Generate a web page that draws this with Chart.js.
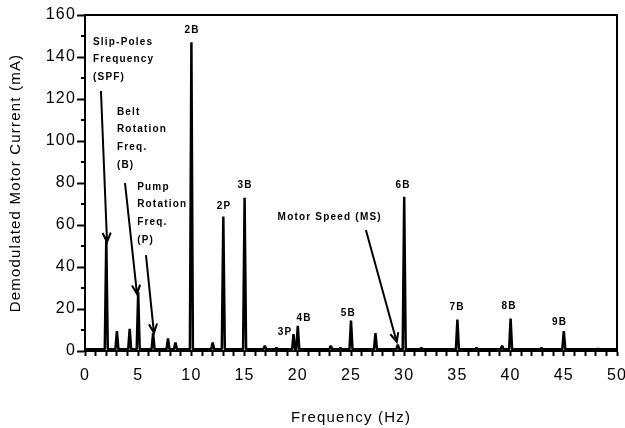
<!DOCTYPE html>
<html>
<head>
<meta charset="utf-8">
<script src="https://cdn.jsdelivr.net/npm/chart.js@4.4.1/dist/chart.umd.min.js"></script>
<style>
    html, body { margin: 0; padding: 0; background: #fff; }
</style>
</head>
<body>
<canvas id="spectrum" width="625" height="428"></canvas>
<script>
// spectral lines (Hz / mA)
const peakFreqs  = [2, 3, 4.2, 5, 6.4, 7.8, 8.5, 10, 12, 13, 15, 16.9, 18, 19.6, 20, 23.1, 24, 25, 27.3, 29.4, 30, 31.6, 35, 36.8, 39.2, 40, 42.9, 45, 48.2];
const peakValues = [53, 9.5, 10.5, 28, 8.5, 6, 4, 147, 4, 64, 73, 2.5, 1.5, 8, 12, 2.5, 1.5, 14.5, 8.5, 3, 73.5, 1.5, 15, 1.5, 2.5, 15.5, 1.5, 9.5, 1];
const baseLevel = 0.8;   // noise floor
const peakWidth = 0.14;  // half width of a line, Hz

const xTickLabels = [0, 5, 10, 15, 20, 25, 30, 35, 40, 45, 50];
const yTickLabels = [0, 20, 40, 60, 80, 100, 120, 140, 160];

// labelled peaks
const tagNames = ['2B', '3B', '2P', '6B', '3P', '4B', '5B', '7B', '8B', '9B'];
const tagFreqs = [10.06, 15.04, 13.06, 29.9, 18.8, 20.6, 24.75, 34.96, 39.85, 44.6];
const tagLevels = [152.9, 79, 69, 79, 9, 15.7, 17.9, 21, 21.4, 13.8];

// spectrum polyline: floor, line, floor ...
const spectrum = [{ x: 0, y: baseLevel }];
peakFreqs.forEach((f, i) => {
    spectrum.push({ x: f - peakWidth, y: baseLevel });
    spectrum.push({ x: f, y: peakValues[i] });
    spectrum.push({ x: f + peakWidth, y: baseLevel });
});
spectrum.push({ x: 50, y: baseLevel });

const FONT = '"Liberation Sans", Arial, Helvetica, sans-serif';

// callouts with arrows (data coords)
const callouts = [
    { lines: ['Slip-Poles', 'Frequency', '(SPF)'], x: 0.75, y: 147.1, align: 'left',
      arrow: [1.5, 123.8, 2.07, 51.9] },
    { lines: ['Belt', 'Rotation', 'Freq.', '(B)'], x: 3.0, y: 113.8, align: 'left',
      arrow: [3.76, 80, 4.89, 27.1] },
    { lines: ['Pump', 'Rotation', 'Freq.', '(P)'], x: 4.9, y: 78.1, align: 'left',
      arrow: [5.73, 45.7, 6.48, 8.6] },
    { lines: ['Motor Speed (MS)'], x: 23.0, y: 63.8, align: 'center',
      arrow: [26.4, 57.6, 29.3, 4.3] }
];

function drawArrow(ctx, x1, y1, x2, y2) {
    const a = Math.atan2(y2 - y1, x2 - x1);
    const len = 10, spread = 0.42;
    ctx.beginPath();
    ctx.moveTo(x1, y1);
    ctx.lineTo(x2, y2);
    ctx.moveTo(x2 - len * Math.cos(a - spread), y2 - len * Math.sin(a - spread));
    ctx.lineTo(x2, y2);
    ctx.lineTo(x2 - len * Math.cos(a + spread), y2 - len * Math.sin(a + spread));
    ctx.stroke();
}

const decorPlugin = {
    id: 'decor',
    beforeDraw(chart) {
        chart.ctx.letterSpacing = '1.2px';
    },
    afterDraw(chart) {
        const { ctx, chartArea } = chart;
        const xs = chart.scales.x, ys = chart.scales.y;
        ctx.save();
        ctx.strokeStyle = '#000';
        ctx.fillStyle = '#000';
        ctx.lineWidth = 2;

        // top and right frame
        ctx.beginPath();
        ctx.moveTo(chartArea.left, chartArea.top);
        ctx.lineTo(chartArea.right, chartArea.top);
        ctx.lineTo(chartArea.right, chartArea.bottom);
        ctx.stroke();

        // minor y ticks
        for (let v = 10; v < 160; v += 20) {
            const py = Math.round(ys.getPixelForValue(v));
            ctx.beginPath();
            ctx.moveTo(chartArea.left - 4, py);
            ctx.lineTo(chartArea.left, py);
            ctx.stroke();
        }

        ctx.font = 'bold 10px ' + FONT;
        ctx.letterSpacing = '1.2px';
        ctx.textBaseline = 'middle';

        // peak tags
        ctx.textAlign = 'center';
        tagNames.forEach((t, i) => {
            ctx.fillText(t, xs.getPixelForValue(tagFreqs[i]), ys.getPixelForValue(tagLevels[i]));
        });

        // callouts
        callouts.forEach(c => {
            ctx.textAlign = c.align;
            const px = xs.getPixelForValue(c.x);
            const py = ys.getPixelForValue(c.y);
            c.lines.forEach((line, k) => ctx.fillText(line, px, py + k * 17.6));
            const [ax1, ay1, ax2, ay2] = c.arrow;
            drawArrow(ctx, xs.getPixelForValue(ax1), ys.getPixelForValue(ay1),
                xs.getPixelForValue(ax2), ys.getPixelForValue(ay2));
        });
        ctx.restore();
    }
};

new Chart(document.getElementById('spectrum'), {
    type: 'scatter',
    data: {
        datasets: [{
            data: spectrum,
            showLine: true,
            borderColor: '#000',
            borderWidth: 2.5,
            borderJoinStyle: 'bevel',
            pointRadius: 0,
            tension: 0
        }]
    },
    options: {
        responsive: false,
        animation: false,
        layout: { padding: { top: 15, right: 8, left: 0, bottom: 0 } },
        plugins: {
            legend: { display: false },
            tooltip: { enabled: false }
        },
        scales: {
            x: {
                type: 'linear',
                min: 0,
                max: 50,
                afterFit: scale => {
                    scale.height = 77;
                    scale.paddingLeft = 0;
                    scale.paddingRight = 0;
                },
                border: { color: '#000', width: 2 },
                grid: {
                    drawOnChartArea: false,
                    drawTicks: true,
                    tickLength: 5,
                    tickWidth: 2,
                    tickColor: '#000'
                },
                ticks: {
                    stepSize: 1,
                    autoSkip: false,
                    maxRotation: 0,
                    padding: 10,
                    color: '#000',
                    font: { family: FONT, size: 16 },
                    callback: v => xTickLabels.includes(v) ? String(v) : ''
                },
                title: {
                    display: true,
                    text: 'Frequency (Hz)',
                    color: '#000',
                    font: { family: FONT, size: 15 },
                    padding: { top: 0, bottom: 1 }
                }
            },
            y: {
                min: 0,
                max: 160,
                afterFit: scale => {
                    scale.width = 85;
                    scale.paddingTop = 0;
                    scale.paddingBottom = 0;
                },
                border: { color: '#000', width: 2 },
                grid: {
                    drawOnChartArea: false,
                    drawTicks: true,
                    tickLength: 8,
                    tickWidth: 2,
                    tickColor: ctx => (ctx.tick && yTickLabels.includes(ctx.tick.value)) ? '#000' : 'rgba(0,0,0,0)'
                },
                ticks: {
                    stepSize: 20,
                    padding: 1,
                    color: '#000',
                    font: { family: FONT, size: 16 },
                    callback: v => yTickLabels.includes(v) ? String(v) : ''
                },
                title: {
                    display: true,
                    text: 'Demodulated Motor Current (mA)',
                    color: '#000',
                    font: { family: FONT, size: 15 },
                    padding: { top: 7, bottom: 0 }
                }
            }
        }
    },
    plugins: [decorPlugin]
});
</script>
</body>
</html>
